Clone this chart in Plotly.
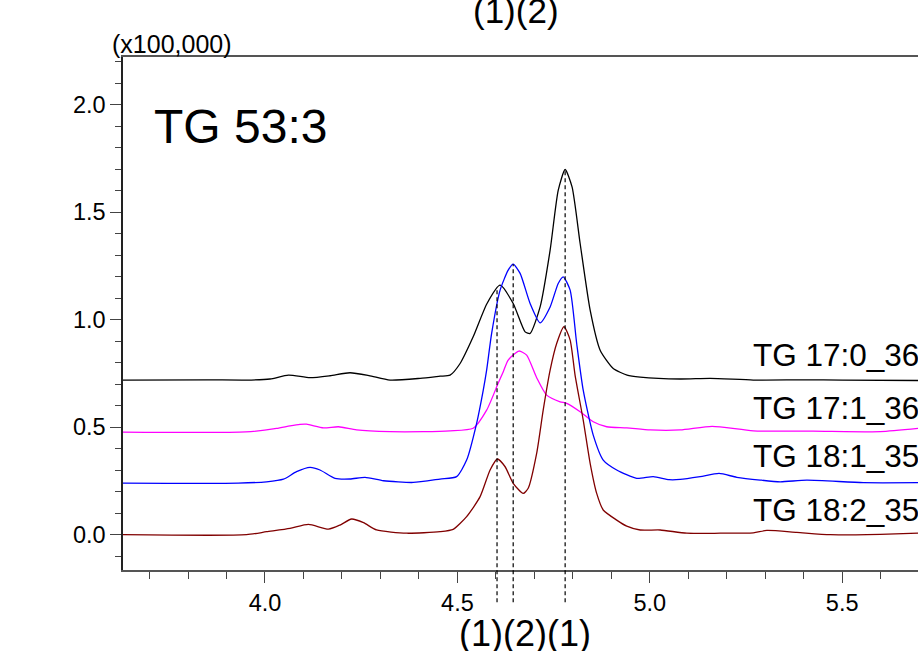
import numpy as np
import plotly.graph_objects as go

# ---------------- data (retention time in min, intensity in x100,000) ----------------
black_x = [3.631, 3.85, 3.95, 4.013, 4.061, 4.117, 4.169, 4.221, 4.27, 4.325, 4.403, 4.455, 4.481,
           4.507, 4.541, 4.577, 4.611, 4.645, 4.676, 4.689, 4.715, 4.741, 4.762, 4.780, 4.798,
           4.819, 4.845, 4.871, 4.905, 4.941, 4.975, 5.079, 5.157, 5.269, 5.40, 5.50, 5.697]
black_y = [0.719, 0.720, 0.719, 0.724, 0.742, 0.730, 0.739, 0.753, 0.740, 0.719, 0.727, 0.737, 0.742,
           0.796, 0.920, 1.075, 1.160, 1.075, 0.943, 0.936, 1.059, 1.323, 1.601, 1.698, 1.617,
           1.354, 1.044, 0.858, 0.773, 0.742, 0.733, 0.724, 0.727, 0.719, 0.720, 0.719, 0.717]

magenta_x = [3.631, 3.95, 4.030, 4.065, 4.091, 4.108, 4.152, 4.191, 4.238, 4.325, 4.411, 4.481,
             4.541, 4.576, 4.606, 4.619, 4.632, 4.660, 4.680, 4.706, 4.732, 4.767, 4.784, 4.819,
             4.853, 4.888, 4.940, 5.001, 5.079, 5.162, 5.269, 5.424, 5.599, 5.697]
magenta_y = [0.477, 0.478, 0.494, 0.506, 0.513, 0.514, 0.497, 0.502, 0.487, 0.479, 0.479, 0.483,
             0.495, 0.579, 0.704, 0.757, 0.812, 0.854, 0.835, 0.730, 0.649, 0.618, 0.611, 0.572,
             0.525, 0.502, 0.497, 0.487, 0.487, 0.504, 0.483, 0.482, 0.479, 0.494]

blue_x = [3.631, 3.93, 4.004, 4.048, 4.082, 4.117, 4.143, 4.182, 4.221, 4.260, 4.308, 4.385, 4.455,
          4.498, 4.524, 4.550, 4.567, 4.576, 4.589, 4.611, 4.632, 4.645, 4.663, 4.689, 4.715,
          4.741, 4.762, 4.775, 4.793, 4.810, 4.827, 4.853, 4.879, 4.914, 4.966, 5.009, 5.05,
          5.079, 5.131, 5.180, 5.226, 5.287, 5.339, 5.408, 5.555, 5.697]
blue_y = [0.240, 0.240, 0.246, 0.258, 0.293, 0.313, 0.301, 0.262, 0.259, 0.267, 0.251, 0.243, 0.259,
          0.270, 0.347, 0.518, 0.670, 0.765, 0.936, 1.137, 1.230, 1.258, 1.215, 1.075, 0.985,
          1.059, 1.168, 1.199, 1.137, 0.889, 0.672, 0.463, 0.347, 0.301, 0.262, 0.270, 0.256,
          0.257, 0.270, 0.285, 0.267, 0.254, 0.246, 0.254, 0.242, 0.242]

red_x = [3.631, 3.952, 4.004, 4.065, 4.113, 4.165, 4.195, 4.225, 4.256, 4.290, 4.368, 4.455, 4.489,
         4.524, 4.559, 4.585, 4.604, 4.624, 4.645, 4.671, 4.684, 4.706, 4.723, 4.741, 4.758,
         4.777, 4.793, 4.806, 4.827, 4.845, 4.862, 4.879, 4.914, 4.940, 4.975, 5.027, 5.096,
         5.183, 5.269, 5.304, 5.382, 5.469, 5.599, 5.697]
red_y = [0.0, 0.0, 0.014, 0.030, 0.048, 0.026, 0.045, 0.073, 0.056, 0.022, 0.007, 0.014, 0.025,
         0.084, 0.177, 0.301, 0.352, 0.316, 0.239, 0.192, 0.216, 0.378, 0.579, 0.765, 0.889,
         0.967, 0.905, 0.740, 0.533, 0.332, 0.192, 0.115, 0.068, 0.040, 0.022, 0.022, 0.007,
         0.007, 0.009, 0.020, 0.011, 0.0, 0.002, 0.007]

series_names = ["TG 17:0_36:3", "TG 17:1_36:2", "TG 18:1_35:2", "TG 18:2_35:1"]
series_colors = ["#000000", "#FF00FF", "#0000FF", "#800000"]
label_levels = [0.837, 0.591, 0.368, 0.117]

peak_marks = [4.603, 4.645, 4.780]

title_text = "TG 53:3"
scale_text = "(x100,000)"
top_note = "(1)(2)"
bottom_note = "(1)(2)(1)"

x_range = [3.631, 5.697]
y_range = [-0.164, 2.221]

FONT = "Liberation Sans, Arial, sans-serif"

fig = go.Figure()
all_series = [(black_x, black_y), (magenta_x, magenta_y), (blue_x, blue_y), (red_x, red_y)]
for (xs, ys), name, col in zip(all_series, series_names, series_colors):
    fig.add_trace(go.Scatter(x=xs, y=ys, mode="lines", name=name,
                             line=dict(color=col, width=1.3, shape="spline", smoothing=0.6),
                             showlegend=False, hoverinfo="skip"))

# dashed peak markers
span = y_range[1] - y_range[0]
for xm in peak_marks:
    top = max(float(np.interp(xm, xs, ys)) for xs, ys in all_series)
    fig.add_shape(type="line", xref="x", yref="paper", x0=xm, x1=xm,
                  y0=-0.063, y1=(top - y_range[0]) / span,
                  line=dict(color="black", width=1.2, dash="4px,3px"))

# series labels on right (cut by the right edge, as in the original)
for name, lvl in zip(series_names, label_levels):
    fig.add_annotation(x=5.262, y=lvl, xref="x", yref="y", text=name, showarrow=False,
                       xanchor="left", yanchor="middle", font=dict(size=31.5, color="black", family=FONT))

fig.add_annotation(x=0.036, y=0.8647, xref="paper", yref="paper", text=title_text, showarrow=False,
                   xanchor="left", yanchor="middle", font=dict(size=48, color="black", family=FONT))
fig.add_annotation(x=-0.016, y=1.0253, xref="paper", yref="paper", text=scale_text, showarrow=False,
                   xanchor="left", yanchor="middle", font=dict(size=25, color="black", family=FONT))
fig.add_annotation(x=4.651, y=1.0493, xref="x", yref="paper", text=top_note, showarrow=False,
                   xanchor="center", yanchor="bottom", font=dict(size=35, color="black", family=FONT))
fig.add_annotation(x=4.675, y=-0.0793, xref="x", yref="paper", text=bottom_note, showarrow=False,
                   xanchor="center", yanchor="top", font=dict(size=36, color="black", family=FONT))

fig.update_layout(
    width=918, height=651,
    margin=dict(l=123, r=0, t=57, b=81),
    paper_bgcolor="white", plot_bgcolor="white",
    font=dict(family=FONT, color="black"),
)
fig.update_xaxes(range=x_range, showgrid=False, zeroline=False,
                 showline=True, linecolor="#555555", linewidth=1.5, mirror=True,
                 ticks="outside", ticklen=11, tickwidth=1.2, tickcolor="#444444",
                 tick0=0, dtick=0.5, tickformat=".1f",
                 tickfont=dict(size=23.5, color="black", family=FONT),
                 minor=dict(ticks="outside", ticklen=7, tickwidth=1.2, tickcolor="#444444",
                            tick0=0, dtick=0.1, showgrid=False))
fig.update_yaxes(range=y_range, showgrid=False, zeroline=False,
                 showline=True, linecolor="#222222", linewidth=1.5,
                 ticks="outside", ticklen=11, tickwidth=1.2, tickcolor="#444444",
                 tick0=0, dtick=0.5, tickformat=".1f",
                 tickfont=dict(size=23.5, color="black", family=FONT),
                 minor=dict(ticks="outside", ticklen=6, tickwidth=1.2, tickcolor="#444444",
                            tick0=0, dtick=0.1, showgrid=False))

fig.write_html("out.html", config={"displayModeBar": False},
               post_script="document.body.style.margin='0';")
